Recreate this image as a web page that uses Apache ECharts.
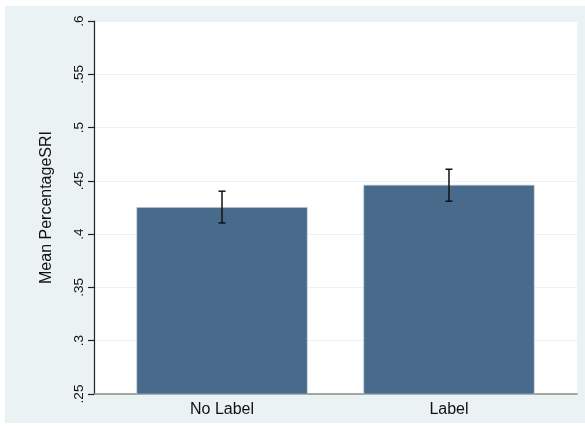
<!DOCTYPE html>
<html>
<head>
<meta charset="utf-8">
<script src="https://cdn.jsdelivr.net/npm/echarts@6/dist/echarts.min.js"></script>
<style>
  html, body { margin: 0; padding: 0; background: #ffffff; }
  #chart { position: absolute; left: 5px; top: 6px; width: 580px; height: 417px; background: #EAF2F3; }
</style>
</head>
<body>
<div id="chart"></div>
<script>
const categories = ['No Label', 'Label'];
const meanValues = [0.4253, 0.4462];
const ciLower = [0.4105, 0.4309];
const ciUpper = [0.4403, 0.4609];
const yTicks = [0.25, 0.3, 0.35, 0.4, 0.45, 0.5, 0.55, 0.6];

const positions = categories.map((c, i) => i + 1);
const barData = positions.map((p, i) => [p, meanValues[i]]);
const errData = positions.map((p, i) => [p, ciLower[i], ciUpper[i]]);

const chart = echarts.init(document.getElementById('chart'));
chart.setOption({
  animation: false,
  backgroundColor: '#EAF2F3',
  textStyle: { fontFamily: 'Liberation Sans, Arial, sans-serif' },
  grid: {
    left: 89, right: 8, top: 15, bottom: 29,
    show: true, backgroundColor: '#ffffff', borderWidth: 0
  },
  xAxis: {
    type: 'value',
    min: 0.436, max: 2.564,
    splitLine: { show: false },
    axisTick: { show: false },
    axisLine: { show: true, lineStyle: { color: '#8a8a8a', width: 1.5 } },
    axisLabel: {
      customValues: positions,
      formatter: v => categories[Math.round(v) - 1] || '',
      color: '#111', fontSize: 16, margin: 8
    }
  },
  yAxis: {
    type: 'value',
    min: yTicks[0], max: yTicks[yTicks.length - 1], interval: 0.05,
    name: 'Mean PercentageSRI',
    nameLocation: 'middle',
    nameGap: 39,
    nameRotate: 90,
    nameTextStyle: { fontSize: 16, color: '#111' },
    axisLine: { show: true, lineStyle: { color: '#222', width: 1.2 } },
    axisTick: { show: true, length: 6, lineStyle: { color: '#222', width: 1.2 } },
    axisLabel: {
      rotate: 90, fontSize: 13.5, color: '#111', margin: 8,
      formatter: v => String(+v.toFixed(2)).replace(/^0\./, '.')
    },
    splitLine: { show: true, lineStyle: { color: '#EAF2F3', width: 1.2 } }
  },
  series: [
    {
      type: 'bar',
      data: barData,
      barWidth: 171,
      clip: true,
      itemStyle: { color: '#486A8B', borderColor: '#b9c6d2', borderWidth: 0.6 }
    },
    {
      type: 'custom',
      data: errData,
      encode: { x: 0, y: [1, 2] },
      renderItem: function (params, api) {
        const x = api.value(0);
        const lo = api.coord([x, api.value(1)]);
        const hi = api.coord([x, api.value(2)]);
        const cap = 3.5;
        const style = { stroke: '#111', lineWidth: 1.5 };
        return {
          type: 'group',
          children: [
            { type: 'line', shape: { x1: lo[0], y1: lo[1], x2: hi[0], y2: hi[1] }, style: style },
            { type: 'line', shape: { x1: lo[0] - cap, y1: lo[1], x2: lo[0] + cap, y2: lo[1] }, style: style },
            { type: 'line', shape: { x1: hi[0] - cap, y1: hi[1], x2: hi[0] + cap, y2: hi[1] }, style: style }
          ]
        };
      },
      z: 10
    }
  ]
});
</script>
</body>
</html>
